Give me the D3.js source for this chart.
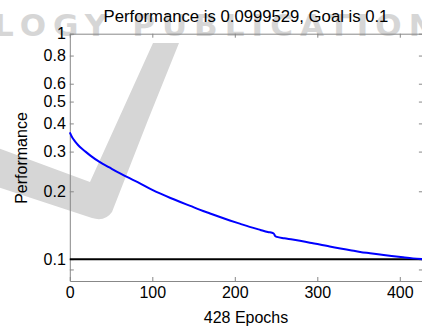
<!DOCTYPE html>
<html>
<head>
<meta charset="utf-8">
<script src="https://cdn.jsdelivr.net/npm/d3@7"></script>
<style>
  body { margin: 0; background: #fff; }
  text { font-family: "Liberation Sans", Arial, sans-serif; }
</style>
</head>
<body>
<svg id="mysvg" width="422" height="330"></svg>
<script>
// training record
var epochs = [0, 2, 5, 8, 12, 18, 25, 36, 48, 61, 73, 85, 100, 110, 122, 134, 146, 158, 170, 182,
  194, 206, 218, 231, 240, 247, 249, 251, 260, 270, 279, 291, 303, 315, 328, 340, 352, 364, 376,
  390, 404, 416, 428];
var perf = [0.365, 0.352, 0.338, 0.327, 0.315, 0.302, 0.288, 0.270, 0.255, 0.240, 0.228, 0.217,
  0.203, 0.1952, 0.1868, 0.1792, 0.1722, 0.1654, 0.1594, 0.1537, 0.1485, 0.1437, 0.1391, 0.1348,
  0.1320, 0.1302, 0.1265, 0.1255, 0.1238, 0.1222, 0.1206, 0.1183, 0.1162, 0.1138, 0.1115, 0.1096,
  0.1077, 0.1063, 0.1049, 0.1033, 0.1019, 0.1008, 0.0999529];
var goal = 0.1;
var xTicks = [0, 100, 200, 300, 400];
var yTicks = [0.09, 0.1, 0.2, 0.3, 0.4, 0.5, 0.6, 0.8, 1];
var yLabels = ["", "0.1", "0.2", "0.3", "0.4", "0.5", "0.6", "0.8", "1"];

var svg = d3.select("#mysvg");

// watermark behind everything
var wm = svg.append("g").attr("fill", "#d6d6d6");
wm.append("path")
  .attr("d", "M-5,147 L90,182 L153,43 L179,43 L148,120 L112,212 Q105,222 92,218 L-5,186 Z");
wm.append("text")
  .attr("x", -6).attr("y", 36)
  .attr("font-size", 31).attr("font-weight", "bold")
  .attr("textLength", 470).attr("lengthAdjust", "spacing")
  .style("font-family", "'DejaVu Sans', sans-serif")
  .text("LOGY PUBLICATIONS");

var x = d3.scaleLinear().domain([0, 428]).range([69.8, 422.9]);
var y = d3.scaleLog().domain([0.08, 1]).range([281, 33.7]);

// box + ticks (inward, matlab style)
var axisColor = "#888";
function styleAxis(g) {
  g.select(".domain").attr("stroke", axisColor);
  g.selectAll(".tick line").attr("stroke", axisColor);
  g.selectAll(".tick text").attr("fill", "#000").attr("font-size", 16)
    .style("font-family", "'Liberation Sans', Arial, sans-serif");
}

svg.append("g")
  .attr("transform", "translate(0,281)")
  .call(d3.axisBottom(x).tickValues(xTicks).tickSize(-4).tickPadding(6).tickSizeOuter(0))
  .call(styleAxis);
svg.append("g")
  .attr("transform", "translate(0,33.7)")
  .call(d3.axisTop(x).tickValues(xTicks).tickSize(-4).tickFormat("").tickSizeOuter(0))
  .call(styleAxis);
svg.append("g")
  .attr("transform", "translate(69.8,0)")
  .call(d3.axisLeft(y).tickValues(yTicks).tickSize(-4).tickPadding(4).tickSizeOuter(0)
    .tickFormat(function(d, i) { return yLabels[i]; }))
  .call(styleAxis);
svg.append("g")
  .attr("transform", "translate(422.9,0)")
  .call(d3.axisRight(y).tickValues(yTicks).tickSize(-4).tickFormat("").tickSizeOuter(0))
  .call(styleAxis);

// goal line
svg.append("line")
  .attr("x1", x(0)).attr("x2", x(428))
  .attr("y1", y(goal)).attr("y2", y(goal))
  .attr("stroke", "#000").attr("stroke-width", 2);

// performance curve
var line = d3.line()
  .x(function(d, i) { return x(epochs[i]); })
  .y(function(d) { return y(d); })
  .curve(d3.curveMonotoneX);
svg.append("path")
  .datum(perf)
  .attr("d", line)
  .attr("fill", "none")
  .attr("stroke", "#0000ff")
  .attr("stroke-width", 2);

// titles
svg.append("text")
  .attr("x", 246).attr("y", 22)
  .attr("text-anchor", "middle").attr("font-size", 16.7)
  .text("Performance is 0.0999529, Goal is 0.1");
svg.append("text")
  .attr("x", 246).attr("y", 323)
  .attr("text-anchor", "middle").attr("font-size", 16)
  .text("428 Epochs");
svg.append("text")
  .attr("transform", "translate(27,158) rotate(-90)")
  .attr("text-anchor", "middle").attr("font-size", 16)
  .text("Performance");
</script>
</body>
</html>
